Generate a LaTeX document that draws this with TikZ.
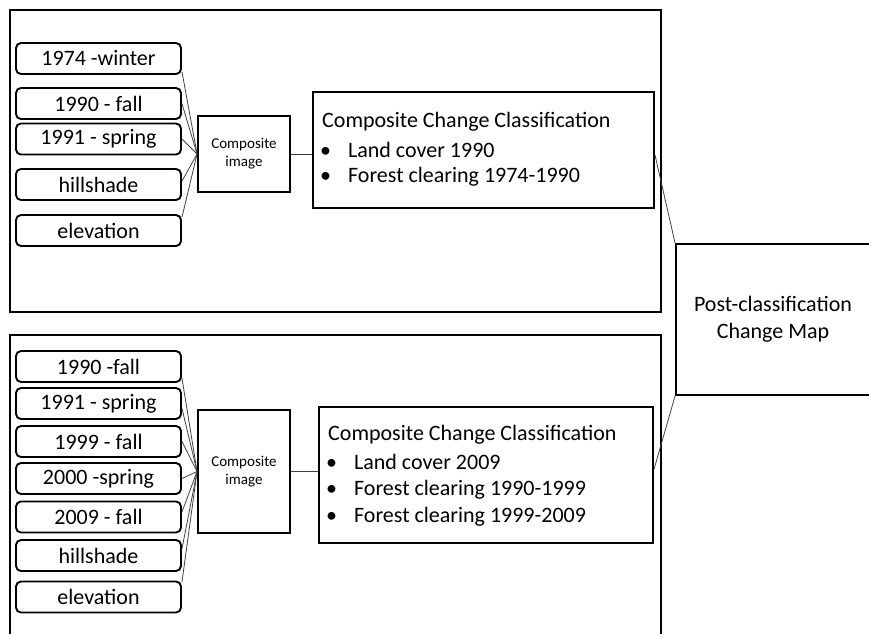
\documentclass[tikz,border=0pt]{standalone}
\usepackage{fontspec}
\setmainfont{Carlito}
\usetikzlibrary{calc}
\begin{document}
\begin{tikzpicture}[x=1pt,y=-1pt,
  frame/.style={draw,line width=2pt},
  inbox/.style={draw,line width=1.9pt,rounded corners=5pt,minimum width=165pt,minimum height=31pt,inner sep=0pt,font=\fontsize{22}{26}\selectfont},
  compbox/.style={draw,line width=1.9pt,minimum width=92pt,inner sep=0pt,align=center,font=\fontsize{15}{18}\selectfont},
  classbox/.style={draw,line width=1.9pt,inner sep=0pt},
  txt/.style={anchor=west,inner sep=0pt,font=\fontsize{22}{26}\selectfont},
  conn/.style={draw,line width=0.8pt,black!75}]
\useasboundingbox (0,0) rectangle (869,633);
% frames
\draw[frame] (10,10) rectangle (661,312);
\draw[frame] (10,335) rectangle (661,660);
% post box
\node[draw,line width=1.9pt,minimum width=194pt,minimum height=151pt,inner sep=0pt,align=center,font=\fontsize{22}{27}\selectfont] (post) at (773,319.5) {Post-classification\\Change Map};
% top section inputs
\node[inbox] (a1) at (98.5,58.5) {1974 -winter};
\node[inbox] (a2) at (98.5,103.5) {1990 - fall};
\node[inbox] (a3) at (98.5,139) {1991 - spring};
\node[inbox] (a4) at (98.5,184.5) {hillshade};
\node[inbox] (a5) at (98.5,230.5) {elevation};
\node[compbox,minimum height=76pt] (ca) at (244,154) {Composite\\image};
\node[classbox,minimum width=341pt,minimum height=116pt] (cla) at (483.5,150) {};
\node[txt] (ta0) at (322,122) {Composite Change Classification};
\node[txt] (ta1) at (320,150) {•\hspace{17pt}Land cover 1990};
\node[txt] (ta2) at (320,177) {•\hspace{17pt}Forest clearing 1974-1990};
% top connectors
\draw[conn] ($(a1.north east)!0.9!(a1.south east)$) -- (ca.west);
\draw[conn] ($(a2.north east)!0.5!(a2.south east)$) -- (ca.west);
\draw[conn] ($(a3.north east)!0.5!(a3.south east)$) -- (ca.west);
\draw[conn] ($(a4.north east)!0.4!(a4.south east)$) -- (ca.west);
\draw[conn] ($(a5.north east)!0.1!(a5.south east)$) -- (ca.west);
\draw[conn] (ca.east) -- (cla.west |- ca.east);
% bottom section inputs
\node[inbox] (b1) at (98.5,366.5) {1990 -fall};
\node[inbox] (b2) at (98.5,403.5) {1991 - spring};
\node[inbox] (b3) at (98.5,441.5) {1999 - fall};
\node[inbox] (b4) at (98.5,478.5) {2000 -spring};
\node[inbox] (b5) at (98.5,517) {2009 - fall};
\node[inbox] (b6) at (98.5,555.5) {hillshade};
\node[inbox] (b7) at (98.5,597) {elevation};
\node[compbox,minimum height=123pt] (cb) at (244,471.5) {Composite\\image};
\node[classbox,minimum width=334pt,minimum height=136pt] (clb) at (486,475) {};
\node[txt] (tb0) at (328,435) {Composite Change Classification};
\node[txt] (tb1) at (326,462) {•\hspace{17pt}Land cover 2009};
\node[txt] (tb2) at (326,490) {•\hspace{17pt}Forest clearing 1990-1999};
\node[txt] (tb3) at (326,517) {•\hspace{17pt}Forest clearing 1999-2009};
% bottom connectors
\draw[conn] ($(b1.north east)!0.85!(b1.south east)$) -- (cb.west);
\draw[conn] ($(b2.north east)!0.65!(b2.south east)$) -- (cb.west);
\draw[conn] ($(b3.north east)!0.5!(b3.south east)$) -- (cb.west);
\draw[conn] ($(b4.north east)!0.5!(b4.south east)$) -- (cb.west);
\draw[conn] ($(b5.north east)!0.35!(b5.south east)$) -- (cb.west);
\draw[conn] ($(b6.north east)!0.3!(b6.south east)$) -- (cb.west);
\draw[conn] ($(b7.north east)!0.05!(b7.south east)$) -- (cb.west);
\draw[conn] (cb.east) -- (clb.west |- cb.east);
% to post box
\draw[conn] ($(cla.north east)!0.54!(cla.south east)$) -- (post.north west);
\draw[conn] ($(clb.north east)!0.46!(clb.south east)$) -- (post.south west);
\end{tikzpicture}
\end{document}
